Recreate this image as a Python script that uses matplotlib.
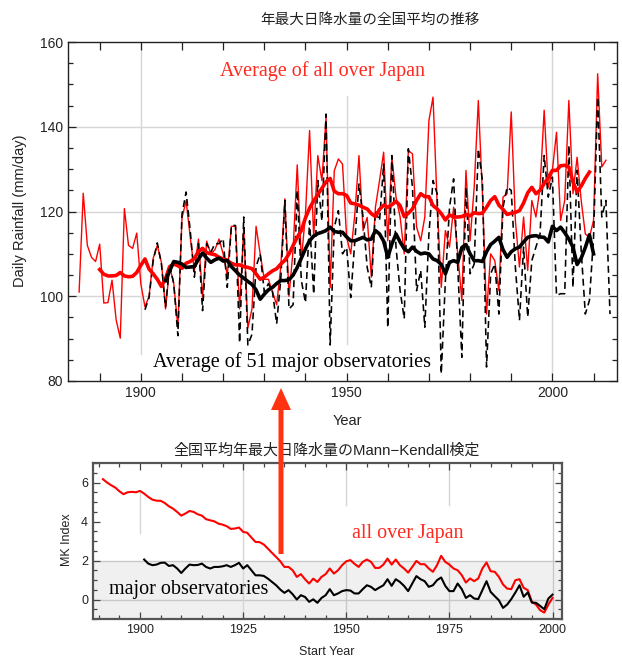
import numpy as np
import matplotlib.pyplot as plt
from matplotlib.ticker import MultipleLocator
from matplotlib.patches import FancyArrow

plt.rcParams['font.family'] = ['Liberation Sans', 'Noto Sans CJK JP', 'DejaVu Sans']
plt.rcParams['lines.scale_dashes'] = False

# annual maximum daily rainfall, averaged over all of Japan (mm/day)
all_years = np.arange(1885, 2014)
all_annual = [
    101.0, 124.3, 112.0, 109.2, 108.2, 112.3, 98.4, 98.5, 103.8, 94.4,
    90.1, 120.7, 112.0, 111.3, 114.9, 102.9, 97.5, 100.0, 109.0, 112.0,
    108.0, 97.0, 107.0, 103.0, 92.7, 118.5, 122.5, 114.0, 106.0, 113.5,
    99.8, 113.0, 110.0, 111.0, 113.5, 110.0, 105.0, 116.5, 116.5, 97.0,
    116.0, 92.5, 97.0, 116.5, 110.0, 104.0, 104.0, 101.0, 98.0, 107.0,
    123.0, 100.0, 111.0, 131.0, 108.4, 119.4, 139.1, 113.9, 133.2, 127.3,
    142.2, 102.0, 129.6, 132.4, 131.2, 113.9, 110.0, 119.4, 133.2, 115.5,
    118.6, 104.5, 121.0, 127.3, 134.0, 113.1, 132.8, 123.4, 118.7, 110.0,
    134.4, 133.6, 116.3, 113.1, 118.7, 141.5, 147.0, 121.8, 102.1, 115.5,
    111.6, 121.0, 110.0, 99.0, 129.7, 113.1, 125.7, 146.2, 124.2, 95.8,
    110.0, 108.4, 101.3, 123.4, 124.2, 143.5, 117.9, 106.9, 118.7, 106.1,
    122.6, 118.7, 125.7, 143.9, 125.7, 129.7, 138.7, 117.9, 122.6, 146.2,
    124.2, 132.8, 122.6, 114.7, 113.9, 117.9, 152.5, 130.5, 132.1,
]
# 11-year running mean of the above
all_ma_years = np.arange(1890, 2010)
all_ma = [
    106.3, 105.2, 104.8, 104.8, 104.9, 105.6, 104.8, 104.6, 104.7, 105.6,
    107.3, 108.8, 106.4, 105.3, 104.0, 102.3, 104.2, 107.0, 107.6, 107.2,
    106.6, 107.8, 108.2, 108.9, 110.6, 111.3, 110.3, 110.0, 109.8, 109.2,
    108.8, 108.4, 107.8, 107.4, 107.4, 107.0, 106.8, 106.5, 105.3, 104.0,
    104.5, 105.3, 106.0, 106.5, 107.6, 108.5, 110.0, 112.0, 113.9, 115.5,
    118.5, 120.8, 122.5, 124.0, 125.5, 127.0, 127.8, 124.8, 124.2, 124.2,
    123.8, 122.0, 121.8, 121.5, 121.0, 120.6, 119.5, 118.8, 120.5, 121.5,
    121.0, 121.6, 122.4, 121.4, 118.8, 119.6, 120.6, 122.6, 124.2, 123.5,
    123.5, 121.4, 120.6, 119.5, 118.0, 119.2, 118.7, 118.7, 118.8, 119.3,
    119.0, 119.7, 119.5, 119.6, 121.0, 122.6, 123.5, 121.5, 120.5, 119.3,
    119.6, 119.8, 120.2, 122.0, 124.4, 125.7, 124.2, 125.0, 126.6, 128.0,
    129.7, 129.7, 130.8, 130.9, 130.5, 127.0, 124.6, 126.0, 127.8, 129.3,
]

# same quantity, mean of the 51 major observatories
obs_years = np.arange(1901, 2015)
obs_annual = [
    96.8, 99.7, 108.4, 112.6, 107.6, 97.4, 107.6, 102.9, 90.7, 119.4,
    124.6, 115.5, 104.5, 112.4, 96.6, 112.4, 110.4, 112.4, 112.4, 113.6,
    102.1, 116.7, 116.7, 89.0, 118.7, 88.5, 91.0, 107.0, 110.0, 101.0,
    103.0, 101.0, 93.5, 104.0, 122.6, 97.0, 98.0, 125.0, 103.7, 98.5,
    117.8, 100.5, 127.3, 117.8, 143.0, 88.5, 116.3, 120.2, 110.0, 111.5,
    99.7, 113.1, 126.5, 118.6, 106.8, 102.1, 120.2, 117.8, 131.2, 92.6,
    133.2, 111.6, 101.3, 94.7, 134.8, 125.7, 101.3, 106.1, 92.7, 114.7,
    127.3, 124.2, 81.7, 103.7, 121.0, 127.7, 106.9, 85.6, 125.7, 105.3,
    107.6, 134.8, 127.3, 83.3, 105.3, 107.6, 95.8, 121.0, 125.7, 125.0,
    106.9, 94.3, 111.6, 95.1, 108.4, 111.6, 114.7, 133.2, 123.4, 128.1,
    100.2, 100.6, 100.6, 135.6, 102.1, 129.7, 110.8, 95.8, 99.0, 113.9,
    147.0, 118.7, 122.6, 95.8,
]
obs_ma_years = np.arange(1906, 2011)
obs_ma = [
    103.7, 106.0, 108.2, 108.0, 107.6, 106.8, 106.9, 107.0, 108.8, 110.2,
    109.0, 108.0, 108.6, 109.0, 108.3, 108.5, 107.0, 106.0, 105.0, 104.3,
    103.5, 102.8, 101.5, 99.3, 100.5, 101.5, 102.1, 103.0, 103.7, 103.7,
    103.9, 105.0, 106.8, 109.0, 111.2, 113.1, 114.2, 114.8, 115.1, 115.5,
    116.3, 115.3, 115.1, 115.1, 114.0, 113.1, 113.1, 113.5, 113.9, 113.3,
    113.5, 115.5, 114.7, 113.0, 109.2, 112.3, 114.7, 112.8, 111.2, 110.5,
    111.6, 110.6, 110.0, 110.2, 110.0, 108.8, 108.4, 107.5, 105.3, 108.0,
    108.4, 108.0, 111.5, 112.2, 110.0, 108.4, 108.4, 108.2, 110.5, 112.2,
    113.0, 113.9, 111.0, 109.2, 110.5, 111.2, 111.6, 112.8, 113.9, 114.2,
    114.3, 114.0, 113.9, 112.8, 116.5, 115.5, 116.3, 115.0, 113.5, 111.6,
    107.5, 109.0, 111.5, 114.5, 110.0,
]

# Mann-Kendall statistic by start year of the series
mk_all_years = np.arange(1891, 2001)
mk_all = [
    6.17, 6.00, 5.86, 5.74, 5.55, 5.40, 5.50, 5.52, 5.50, 5.57,
    5.43, 5.26, 5.12, 5.07, 5.06, 4.95, 4.78, 4.66, 4.49, 4.30,
    4.41, 4.54, 4.49, 4.37, 4.30, 4.12, 4.06, 4.01, 3.89, 3.84,
    3.76, 3.62, 3.64, 3.69, 3.47, 3.42, 3.18, 2.95, 2.94, 2.82,
    2.61, 2.39, 2.18, 1.96, 1.67, 1.67, 1.50, 1.16, 1.30, 1.04,
    0.82, 1.07, 0.90, 1.16, 1.30, 1.59, 1.33, 1.50, 1.76, 1.96,
    2.02, 1.83, 1.67, 1.93, 2.05, 1.93, 1.62, 1.62, 1.79, 2.10,
    1.79, 2.05, 1.76, 1.59, 1.38, 1.67, 1.98, 1.81, 1.81, 1.59,
    1.42, 1.76, 2.24, 1.93, 1.79, 1.59, 1.50, 1.25, 0.87, 1.08,
    0.94, 1.08, 1.59, 1.90, 1.45, 1.42, 1.16, 0.77, 0.56, 0.53,
    0.99, 1.04, 0.60, 0.48, -0.12, -0.26, -0.55, -0.67, -0.26, 0.08,
]
mk_obs_years = np.arange(1901, 2001)
mk_obs = [
    2.05, 1.84, 1.76, 1.79, 1.88, 1.89, 1.72, 1.76, 1.59, 1.36,
    1.59, 1.79, 1.76, 1.77, 1.84, 1.67, 1.59, 1.67, 1.67, 1.70,
    1.76, 1.67, 1.76, 1.88, 1.59, 1.76, 1.50, 1.24, 1.24, 1.21,
    1.07, 0.90, 0.73, 0.51, 0.34, 0.48, 0.27, 0.00, 0.22, 0.13,
    -0.12, 0.01, -0.17, 0.08, 0.22, 0.53, 0.22, 0.31, 0.43, 0.48,
    0.46, 0.31, 0.31, 0.53, 0.73, 0.65, 0.48, 0.61, 0.73, 1.04,
    0.70, 1.04, 0.90, 0.70, 0.43, 0.82, 1.20, 1.04, 0.94, 0.65,
    0.73, 0.99, 1.13, 0.70, 0.43, 0.43, 0.82, 0.53, 0.08, 0.22,
    0.05, 0.02, 0.48, 0.94, 0.39, 0.17, -0.04, -0.43, -0.26, 0.02,
    0.36, 0.73, 0.14, 0.36, -0.16, -0.17, -0.33, -0.50, 0.05, 0.25,
]

W, H = 622, 657
fig = plt.figure(figsize=(W / 100, H / 100), dpi=100)
ax1 = fig.add_axes([68 / W, 1 - 381 / H, 549 / W, 339 / H])
ax2 = fig.add_axes([93 / W, 1 - 619 / H, 469 / W, 156 / H])

grid_c = '#d6d6d6'
red = '#ff0000'
label_red = '#ff2a1f'
serif = 'Liberation Serif'

# --- upper panel: annual series and running means ---
for v in (100, 120, 140):
    ax1.axhline(v, color=grid_c, lw=1.0, zorder=0.5)
ax1.axvline(1900, ymin=0.08, ymax=1.0, color=grid_c, lw=1.0, zorder=0.5)
ax1.axvline(1950, ymin=0.11, ymax=0.84, color=grid_c, lw=1.0, zorder=0.5)
ax1.axvline(2000, ymin=0.02, ymax=1.0, color=grid_c, lw=1.0, zorder=0.5)

ax1.plot(all_years, all_annual, color=red, lw=1.0, zorder=2)
ax1.plot(obs_years, obs_annual, color='black', lw=1.15, dashes=(5, 3), zorder=3)
ax1.plot(all_ma_years, all_ma, color=red, lw=2.6, zorder=4)
ax1.plot(obs_ma_years, obs_ma, color='black', lw=2.6, zorder=5)

ax1.set_xlim(1882.3, 2015.7)
ax1.set_ylim(80, 160)
ax1.xaxis.set_major_locator(MultipleLocator(50))
ax1.xaxis.set_minor_locator(MultipleLocator(10))
ax1.yaxis.set_major_locator(MultipleLocator(20))
ax1.yaxis.set_minor_locator(MultipleLocator(5))
ax1.tick_params(which='both', direction='in', top=True, right=True,
                color='#222222', width=0.9, labelsize=10, labelcolor='#222222')
ax1.tick_params(which='major', length=6)
ax1.tick_params(which='minor', length=3.5)
ax1.tick_params(axis='x', which='minor', length=6)
for s in ax1.spines.values():
    s.set_color('#222222')
    s.set_linewidth(1.0)

ax1.text(1944.2, 152.0, 'Average of all over Japan', color=label_red,
         family=serif, fontsize=14.5, ha='center', va='baseline', zorder=6)
ax1.text(1936.7, 83.2, 'Average of 51 major observatories', color='black',
         family=serif, fontsize=14.5, ha='center', va='baseline', zorder=6)

fig.text(370 / W, 1 - 20 / H, '年最大日降水量の全国平均の推移',
         fontsize=10.5, ha='center', va='center', color='#222222')
fig.text(20 / W, 1 - 211 / H, 'Daily Rainfall (mm/day)', rotation=90,
         fontsize=10.5, ha='center', va='center', color='#222222')
fig.text(347 / W, 1 - 421 / H, 'Year', fontsize=10.5,
         ha='center', va='center', color='#222222')

# --- lower panel: Mann-Kendall index ---
ax2.axhspan(-1, 2, color='#f0f0f0', lw=0, zorder=0.2)
ax2.axhline(2, color='#c8c8c8', lw=1.0, zorder=0.5)
ax2.axhline(0, color='#c8c8c8', lw=1.0, zorder=0.5)
ax2.axvline(1900, ymin=0.55, ymax=0.81, color=grid_c, lw=1.0, zorder=0.5)
ax2.axvline(1925, color=grid_c, lw=1.0, zorder=0.5)
for yr in (1950, 1975):
    ax2.axvline(yr, ymin=0.73, ymax=1.0, color=grid_c, lw=1.0, zorder=0.5)
    ax2.axvline(yr, ymin=0.0, ymax=0.375, color='#c8c8c8', lw=1.0, zorder=0.5)
ax2.axvline(2000, color='#c8c8c8', lw=1.0, zorder=0.5)

ax2.plot(mk_all_years, mk_all, color=red, lw=1.5, zorder=3)
ax2.plot(mk_obs_years, mk_obs, color='black', lw=1.5, zorder=4)

ax2.set_xlim(1888.6, 2002.3)
ax2.set_ylim(-1, 7)
ax2.xaxis.set_major_locator(MultipleLocator(25))
ax2.xaxis.set_minor_locator(MultipleLocator(5))
ax2.yaxis.set_major_locator(MultipleLocator(2))
ax2.yaxis.set_minor_locator(MultipleLocator(0.5))
ax2.tick_params(which='both', direction='in', top=True, right=True,
                color='#444444', width=0.9, labelsize=9, labelcolor='#222222')
ax2.tick_params(which='major', length=5)
ax2.tick_params(which='minor', length=3)
for s in ax2.spines.values():
    s.set_color('#555555')
    s.set_linewidth(1.6)

ax2.text(1964.9, 3.16, 'all over Japan', color=label_red, family=serif,
         fontsize=14.5, ha='center', va='baseline', zorder=6)
ax2.text(1911.7, 0.26, 'major observatories', color='black', family=serif,
         fontsize=14.5, ha='center', va='baseline', zorder=6)

fig.text(327 / W, 1 - 450 / H, '全国平均年最大日降水量のMann−Kendall検定',
         fontsize=10.8, ha='center', va='center', color='#222222')
fig.text(67 / W, 1 - 540 / H, 'MK Index', rotation=90, fontsize=9,
         ha='center', va='center', color='#222222')
fig.text(327 / W, 1 - 652 / H, 'Start Year', fontsize=9,
         ha='center', va='center', color='#222222')

# arrow linking the two panels
arrow = FancyArrow(2.81, (H - 554) / 100, 0, (554 - 388) / 100,
                   width=0.05, head_width=0.2, head_length=0.22,
                   length_includes_head=True, color='#ff3311', lw=0,
                   transform=fig.dpi_scale_trans, zorder=10)
fig.add_artist(arrow)

fig.savefig('out.png', dpi=100)
